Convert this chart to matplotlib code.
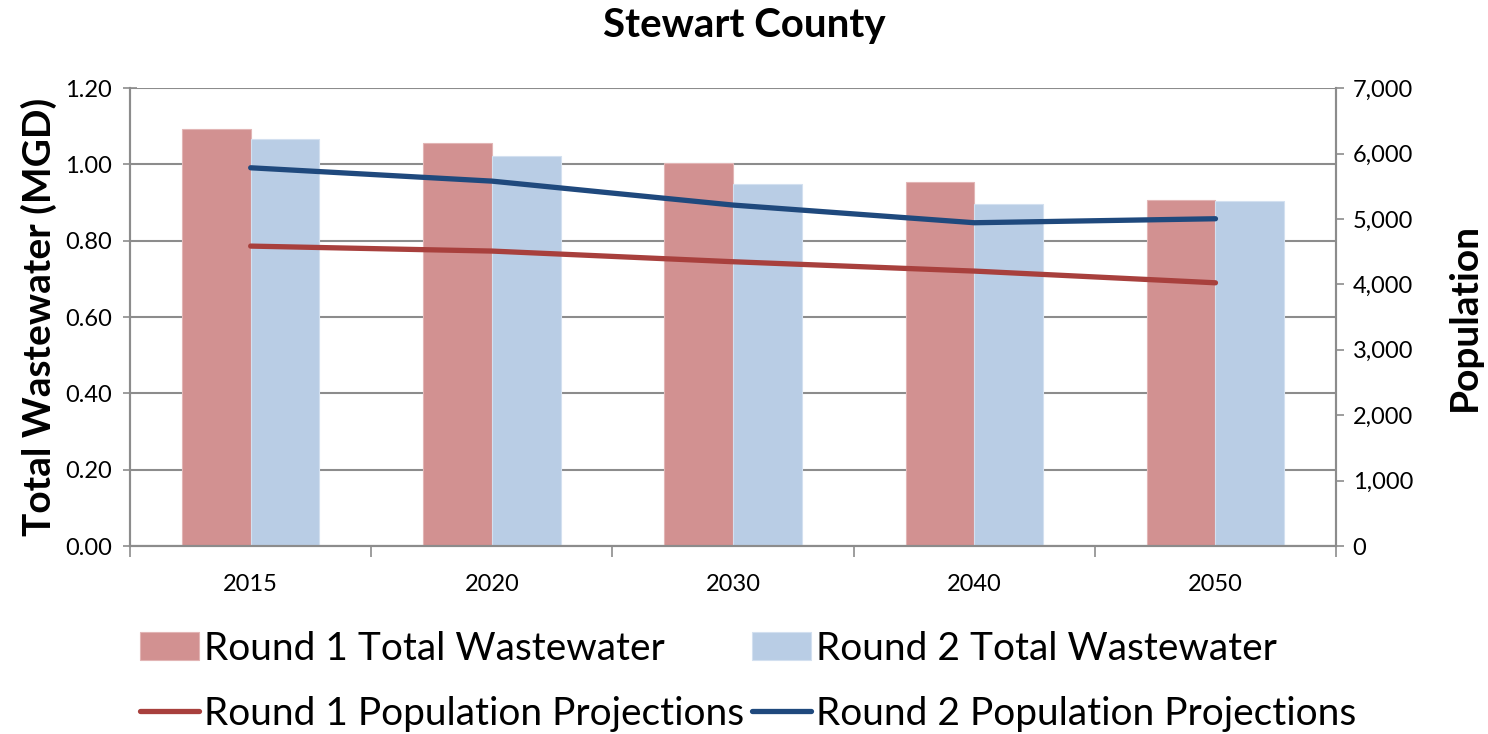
import numpy as np
import matplotlib.pyplot as plt
from matplotlib.ticker import FuncFormatter, FixedLocator

plt.rcParams["font.family"] = ["Lato", "DejaVu Sans"]

# ---------------- data ---------------- #
years = ["2015", "2020", "2030", "2040", "2050"]
r1_wastewater = [1.094, 1.055, 1.003, 0.955, 0.906]
r2_wastewater = [1.066, 1.022, 0.948, 0.896, 0.903]
r1_population = [4585, 4509, 4346, 4203, 4024]
r2_population = [5782, 5578, 5212, 4942, 5003]

# ---------------- styles ---------------- #
c_r1_bar = "#D29191"
c_r2_bar = "#B9CDE5"
c_r1_line = "#A8403D"
c_r2_line = "#1F497D"
grid_c = "#8C8C8C"

fig = plt.figure(figsize=(14.88, 7.34), dpi=100)
ax = fig.add_axes([0.0874, 0.256, 0.8105, 0.624])
ax2 = ax.twinx()

x = np.arange(len(years))
w = 0.285

b1 = ax.bar(x - w / 2, r1_wastewater, w, color=c_r1_bar, edgecolor="#E2B5B5",
            linewidth=0.8, label="Round 1 Total Wastewater", zorder=2)
b2 = ax.bar(x + w / 2, r2_wastewater, w, color=c_r2_bar, edgecolor="#D3E0F0",
            linewidth=0.8, label="Round 2 Total Wastewater", zorder=2)

l1, = ax2.plot(x, r1_population, color=c_r1_line, lw=3.8,
               solid_capstyle="round", label="Round 1 Population Projections")
l2, = ax2.plot(x, r2_population, color=c_r2_line, lw=3.8,
               solid_capstyle="round", label="Round 2 Population Projections")

# left axis
ax.set_xlim(-0.5, len(years) - 0.5)
ax.set_ylim(0, 1.2)
ax.set_yticks(np.arange(0, 1.21, 0.2))
ax.yaxis.set_major_formatter(FuncFormatter(lambda v, p: f"{v:.2f}"))
ax.yaxis.grid(True, color=grid_c, lw=1.5, zorder=0)
ax.set_axisbelow(True)
ax.tick_params(axis="y", direction="inout", length=10, width=1.2, color=grid_c,
               labelsize=17, pad=8)

# x axis: labels at centres, ticks at category boundaries
ax.set_xticks(x)
ax.set_xticklabels(years, fontsize=17)
ax.tick_params(axis="x", which="major", length=0, pad=20)
ax.xaxis.set_minor_locator(FixedLocator(np.arange(-0.5, len(years), 1.0)))
ax.tick_params(axis="x", which="minor", direction="out", length=8, width=1.2,
               color=grid_c)

# right axis
ax2.set_ylim(0, 7000)
ax2.set_yticks(np.arange(0, 7001, 1000))
ax2.yaxis.set_major_formatter(FuncFormatter(lambda v, p: f"{int(v):,}"))
ax2.tick_params(axis="y", direction="out", length=6, width=1.2, color=grid_c,
                labelsize=17, pad=6)

for a in (ax, ax2):
    for s in a.spines.values():
        s.set_color(grid_c)
        s.set_linewidth(1.5)
    a.spines["top"].set_visible(False)

ax.set_ylabel("Total Wastewater (MGD)", fontsize=28, fontweight="bold", labelpad=6)
ax2.set_ylabel("Population", fontsize=28, fontweight="bold", labelpad=24)
fig.suptitle("Stewart County", fontsize=29, fontweight="bold", y=0.99)

fig.legend(handles=[b1, l1, b2, l2], loc="center", bbox_to_anchor=(0.503, 0.072),
           ncol=2, frameon=False, fontsize=28, handlelength=1.5,
           handletextpad=0.15, columnspacing=0.2, labelspacing=0.75)

fig.savefig("out.png", dpi=100)
